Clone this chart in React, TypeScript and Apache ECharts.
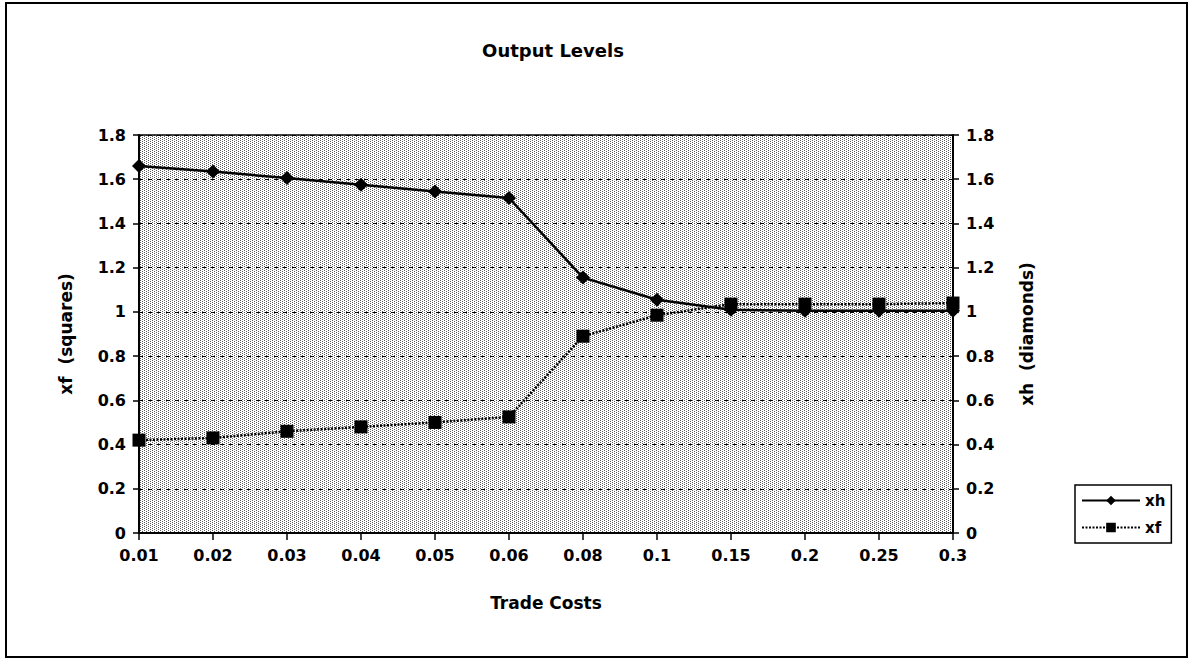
import React, { useEffect, useRef } from "react";
import * as echarts from "echarts";

const tradeCosts = ["0.01", "0.02", "0.03", "0.04", "0.05", "0.06", "0.08", "0.1", "0.15", "0.2", "0.25", "0.3"];
const xh = [1.66, 1.635, 1.605, 1.575, 1.545, 1.515, 1.155, 1.055, 1.01, 1.005, 1.005, 1.005];
const xf = [0.42, 0.43, 0.46, 0.48, 0.5, 0.525, 0.89, 0.985, 1.035, 1.035, 1.035, 1.04];

const FONT = "'DejaVu Sans', Arial, sans-serif";

function makeStipple(): string {
  const c = document.createElement("canvas");
  c.width = 4;
  c.height = 4;
  const ctx = c.getContext("2d")!;
  ctx.fillStyle = "#ffffff";
  ctx.fillRect(0, 0, 4, 4);
  ctx.fillStyle = "#5a5a5a";
  ctx.fillRect(0, 0, 1, 1);
  ctx.fillRect(2, 1, 1, 1);
  ctx.fillRect(0, 2, 1, 1);
  ctx.fillRect(2, 3, 1, 1);
  return c.toDataURL();
}

export default function App() {
  const ref = useRef<HTMLDivElement>(null);
  useEffect(() => {
    document.body.style.margin = "0";
    const chart = echarts.init(ref.current!, null, { renderer: "svg" });
    const labelStyle = { color: "#000", fontFamily: FONT, fontWeight: "bold" as const, fontSize: 16 };
    const nameStyle = { ...labelStyle, fontSize: 17 };
    const yAxisBase = {
      type: "value" as const,
      min: 0,
      max: 1.8,
      interval: 0.2,
      nameLocation: "middle" as const,
      nameRotate: 90,
      nameTextStyle: nameStyle,
      axisLine: { show: true, lineStyle: { color: "#000", width: 2 } },
      axisTick: { show: true, length: 6, lineStyle: { color: "#000", width: 1.5 } },
      axisLabel: { ...labelStyle, margin: 13, formatter: (v: number) => String(Math.round(v * 10) / 10) },
    };
    const stipple = makeStipple();
    chart.setOption({
      animation: false,
      backgroundColor: "#fff",
      title: {
        text: "Output Levels",
        left: 548,
        top: 36,
        textAlign: "center",
        textStyle: { color: "#000", fontFamily: FONT, fontWeight: "bold", fontSize: 18 },
      },
      grid: {
        left: 139,
        right: 240,
        top: 135,
        bottom: 128,
        show: true,
        backgroundColor: { image: stipple, repeat: "repeat" },
        borderColor: "#000",
        borderWidth: 1.5,
      },
      legend: {
        orient: "vertical",
        left: 1075,
        top: 485,
        width: 98,
        padding: [8, 6, 8, 6],
        itemGap: 12,
        itemWidth: 58,
        itemHeight: 12,
        borderColor: "#000",
        borderWidth: 1.5,
        textStyle: { color: "#000", fontFamily: FONT, fontSize: 15, fontWeight: "bold" },
        data: ["xh", "xf"],
      },
      xAxis: {
        type: "category",
        data: tradeCosts,
        boundaryGap: false,
        name: "Trade Costs",
        nameLocation: "middle",
        nameGap: 61,
        nameTextStyle: nameStyle,
        axisLine: { show: true, lineStyle: { color: "#000", width: 2 } },
        axisTick: { show: true, length: 7, lineStyle: { color: "#000", width: 1.5 } },
        axisLabel: { ...labelStyle, margin: 14 },
        splitLine: { show: false },
      },
      yAxis: [
        {
          ...yAxisBase,
          position: "left",
          name: "xf  (squares)",
          nameGap: 65,
          splitLine: { show: true, lineStyle: { color: "#000", type: [4, 5], width: 1.2 } },
        },
        {
          ...yAxisBase,
          position: "right",
          name: "xh  (diamonds)",
          nameGap: 65,
          splitLine: { show: false },
        },
      ],
      series: [
        {
          name: "xh",
          type: "line",
          yAxisIndex: 1,
          data: xh,
          symbol: "diamond",
          symbolSize: 14,
          itemStyle: { color: "#000" },
          lineStyle: { color: "#000", width: 2.5, type: "solid" },
          z: 3,
        },
        {
          name: "xf",
          type: "line",
          yAxisIndex: 0,
          data: xf,
          symbol: "rect",
          symbolSize: 13,
          itemStyle: { color: "#000" },
          lineStyle: { color: "#000", width: 2.5, type: [2, 1.5] },
          z: 2,
        },
      ],
      graphic: [
        {
          type: "rect",
          shape: { x: 6, y: 3, width: 1181, height: 654 },
          style: { fill: "none", stroke: "#000", lineWidth: 2 },
          silent: true,
        },
      ],
    });
    return () => chart.dispose();
  }, []);
  return <div ref={ref} style={{ width: 1193, height: 661 }} />;
}
